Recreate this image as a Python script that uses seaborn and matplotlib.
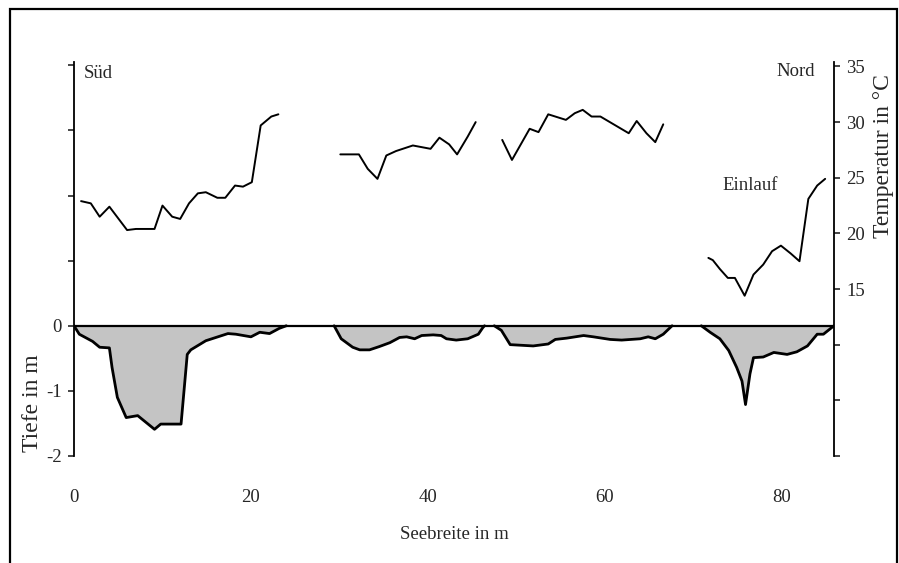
import matplotlib
matplotlib.use("Agg")
import matplotlib.pyplot as plt
import seaborn as sns
import pandas as pd
from matplotlib.patches import Rectangle

# ---- data ----
t1_x = [0.8, 1.9, 2.9, 4.0, 6.0, 7.0, 9.1, 10.0, 11.1, 12.0, 13.0, 14.0, 14.9, 16.2, 17.1, 18.2, 19.1, 20.1, 21.1, 22.3, 23.1]
t1_y = [22.9, 22.7, 21.5, 22.4, 20.3, 20.4, 20.4, 22.5, 21.5, 21.3, 22.7, 23.6, 23.7, 23.2, 23.2, 24.3, 24.2, 24.6, 29.7, 30.5, 30.7]
t2_x = [30.1, 32.2, 33.2, 34.3, 35.3, 36.4, 38.3, 40.3, 41.3, 42.4, 43.3, 44.5, 45.4]
t2_y = [27.1, 27.1, 25.8, 24.9, 27.0, 27.4, 27.9, 27.6, 28.6, 28.0, 27.1, 28.7, 30.0]
t3_x = [48.4, 49.5, 51.5, 52.5, 53.6, 55.6, 56.6, 57.5, 58.5, 59.5, 62.7, 63.6, 64.7, 65.7, 66.6]
t3_y = [28.4, 26.6, 29.4, 29.1, 30.7, 30.2, 30.8, 31.1, 30.5, 30.5, 29.0, 30.1, 29.0, 28.2, 29.8]
t4_x = [71.7, 72.2, 73.0, 73.9, 74.7, 75.8, 76.8, 77.9, 78.9, 79.9, 81.0, 82.0, 83.0, 84.0, 84.9]
t4_y = [17.8, 17.6, 16.8, 16.0, 16.0, 14.4, 16.3, 17.2, 18.4, 18.9, 18.2, 17.5, 23.1, 24.3, 24.9]

d1_x = [0, 0.6, 2.1, 2.9, 4.0, 4.3, 4.9, 5.9, 7.2, 9.1, 9.8, 12.1, 12.8, 13.2, 14.9, 17.4, 18.3, 20.0, 21.0, 22.1, 23.2, 24.0]
d1_y = [0, -0.13, -0.24, -0.33, -0.34, -0.64, -1.10, -1.41, -1.38, -1.59, -1.51, -1.51, -0.44, -0.37, -0.23, -0.12, -0.13, -0.17, -0.10, -0.12, -0.04, 0]
d2_x = [29.4, 30.2, 31.5, 32.3, 33.4, 34.5, 35.7, 36.8, 37.6, 38.5, 39.3, 40.6, 41.5, 42.1, 43.2, 44.5, 45.7, 46.2, 46.4]
d2_y = [0, -0.20, -0.33, -0.37, -0.37, -0.32, -0.26, -0.18, -0.17, -0.20, -0.15, -0.14, -0.15, -0.20, -0.22, -0.20, -0.13, -0.03, 0]
d3_x = [47.5, 48.3, 49.3, 51.9, 53.6, 54.4, 55.7, 57.6, 58.7, 60.6, 61.9, 64.0, 64.9, 65.7, 66.6, 67.6]
d3_y = [0, -0.07, -0.29, -0.31, -0.28, -0.21, -0.19, -0.15, -0.17, -0.21, -0.22, -0.20, -0.17, -0.20, -0.13, 0]
d4_x = [70.9, 71.9, 73.0, 74.0, 74.9, 75.5, 75.9, 76.4, 76.8, 77.9, 79.1, 80.6, 81.7, 82.9, 84.0, 84.7, 85.9]
d4_y = [0, -0.10, -0.20, -0.38, -0.64, -0.85, -1.21, -0.74, -0.49, -0.48, -0.41, -0.44, -0.40, -0.31, -0.13, -0.13, 0]

x_ticks = [0, 20, 40, 60, 80]
depth_ticks = [-2, -1, 0, 1, 2, 3, 4]
depth_labels = ["-2", "-1", "0", "", "", "", ""]
temp_ticks = [0, 5, 10, 15, 20, 25, 30, 35]
temp_labels = ["", "", "", "15", "20", "25", "30", "35"]

# ---- frames ----
temp_df = pd.concat([
    pd.DataFrame({"x": x, "T": y, "seg": i})
    for i, (x, y) in enumerate([(t1_x, t1_y), (t2_x, t2_y), (t3_x, t3_y), (t4_x, t4_y)])
], ignore_index=True)
depth_segs = [(d1_x, d1_y), (d2_x, d2_y), (d3_x, d3_y), (d4_x, d4_y)]
depth_df = pd.concat([
    pd.DataFrame({"x": x, "d": y, "seg": i}) for i, (x, y) in enumerate(depth_segs)
], ignore_index=True)

sns.set_style("white")
plt.rcParams["font.family"] = ["Liberation Serif", "DejaVu Serif"]
FS = 13.5

fig = plt.figure(figsize=(8.99, 5.63), dpi=100)
ax = fig.add_axes([74 / 899, 1 - 456 / 563, (834 - 74) / 899, (456 - 62) / 563])
ax2 = ax.twinx()

# depth profile
for x, y in depth_segs:
    ax.fill_between(x, y, 0, color="#c4c4c4", linewidth=0, zorder=1)
sns.lineplot(data=depth_df, x="x", y="d", units="seg", estimator=None, sort=False,
             color="black", linewidth=2.0, ax=ax, zorder=3)
ax.axhline(0, color="black", linewidth=1.6, zorder=4)

# temperature
sns.lineplot(data=temp_df, x="x", y="T", units="seg", estimator=None, sort=False,
             color="black", linewidth=1.4, ax=ax2)

ax.set_xlim(0, 85.9)
ax.set_ylim(-2, 4.05)
ax2.set_ylim(0, 35.4)

ax.set_xticks(x_ticks)
ax.set_xticklabels([str(v) for v in x_ticks], fontsize=FS)
ax.tick_params(axis="x", length=0, pad=24)
ax.set_yticks(depth_ticks)
ax.set_yticklabels(depth_labels, fontsize=FS)
ax.tick_params(axis="y", direction="out", length=4, width=1.2, pad=5, left=True)
ax2.set_yticks(temp_ticks)
ax2.set_yticklabels(temp_labels, fontsize=FS)
ax2.tick_params(axis="y", direction="out", length=4, width=1.2, pad=5, right=True)

ax.set_xlabel("Seebreite in m", fontsize=FS, labelpad=14)
ax.set_ylabel("")
ax2.set_ylabel("")

for a in (ax, ax2):
    for s in ("top", "bottom"):
        a.spines[s].set_visible(False)
ax.spines["right"].set_visible(False)
ax.spines["left"].set_linewidth(1.3)
ax2.spines["left"].set_visible(False)
ax2.spines["right"].set_linewidth(1.3)
for a in (ax, ax2):
    for s in a.spines.values():
        s.set_color("black")

fig.text(32 / 899, 1 - 403 / 563, "Tiefe in m", rotation=90, fontsize=17, ha="center", va="center")
fig.text(884 / 899, 1 - 156 / 563, "Temperatur in °C", rotation=90, fontsize=17, ha="center", va="center")
fig.text(84 / 899, 1 - 74 / 563, "Süd", fontsize=FS, ha="left", va="center")
fig.text(815 / 899, 1 - 71 / 563, "Nord", fontsize=FS, ha="right", va="center")
fig.text(722 / 899, 1 - 185 / 563, "Einlauf", fontsize=FS, ha="left", va="center")

fig.add_artist(Rectangle((10 / 899, -0.05), (897 - 10) / 899, 1 - 9 / 563 + 0.05,
                         transform=fig.transFigure, fill=False, edgecolor="black", linewidth=1.6))

fig.savefig("out.png", dpi=100)
